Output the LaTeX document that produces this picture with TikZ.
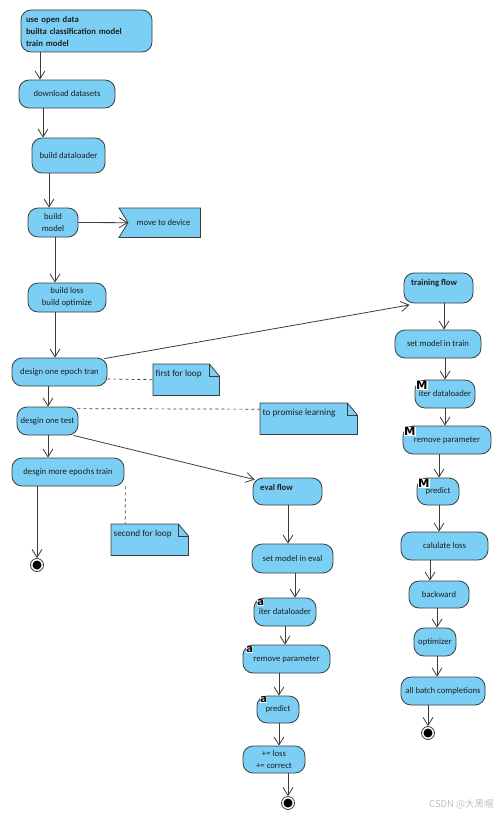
\documentclass[tikz,border=0pt]{standalone}
\usepackage{fontspec}
\setmainfont{Carlito}
\newfontfamily\cjkfont{Noto Sans CJK SC}
\newfontfamily\badgefont{DejaVu Sans}
\usetikzlibrary{arrows.meta,calc}
\definecolor{actfill}{HTML}{7BCFF4}
\definecolor{actline}{HTML}{3C3C3C}
\definecolor{txt}{HTML}{1E1E1E}
\begin{document}
\begin{tikzpicture}[x=1pt,y=-1pt,
  act/.style={draw=actline, fill=actfill, line width=0.8pt, rounded corners=10pt,
    inner sep=0pt, font=\fontsize{8.7}{12}\selectfont, text=txt, align=center},
  boldtxt/.style={font=\bfseries\fontsize{8.7}{12}\selectfont, text=txt, inner sep=0pt, anchor=west},
  shapebox/.style={draw=none, fill=none, inner sep=0pt, anchor=north west},
  shapeline/.style={draw=actline, fill=actfill, line width=0.8pt},
  notetext/.style={font=\fontsize{9.2}{11}\selectfont, text=txt, inner sep=0pt, anchor=west},
  arr/.style={draw=actline, line width=0.8pt, -{Straight Barb[length=8pt,width=10pt,line width=0.8pt]}},
  dashlink/.style={draw=actline, line width=0.7pt, dashed},
  badge/.style={font=\badgefont\bfseries\fontsize{11.5}{11.5}\selectfont, fill=white, inner sep=0.3pt, anchor=north west, text=black},
  badgea/.style={font=\badgefont\bfseries\fontsize{10.5}{10.5}\selectfont, fill=white, inner sep=0.2pt, anchor=north west, text=black},
  final/.style={circle, draw=actline, fill=white, line width=0.8pt, minimum size=13pt, inner sep=0pt,
    path picture={\fill[black] (path picture bounding box.center) circle (4.5pt);}}
]
\fill[white] (0,0) rectangle (499,816);
\useasboundingbox (0,0) rectangle (499,816);

% left column
\node[act, minimum width=131pt, minimum height=42pt, text width=121pt, align=left,
  font=\bfseries\fontsize{8.7}{12}\selectfont] (start) at (86.5,31)
  {use open data\\builta classification model\\train model};
\node[act, minimum width=96pt, minimum height=28pt] (download) at (67,94) {download datasets};
\node[act, minimum width=73pt, minimum height=35pt] (dataloader) at (68.5,155.5) {build dataloader};
\node[act, minimum width=50pt, minimum height=29pt] (buildmodel) at (53,222.5) {build\\model};
\node[shapebox, minimum width=81pt, minimum height=29pt] (movedev) at (119,208) {};
\draw[shapeline] (movedev.north west) -- (movedev.north east) -- (movedev.south east)
  -- (movedev.south west) -- ([xshift=9pt]movedev.west) -- cycle;
\node[font=\fontsize{8.7}{12}\selectfont, text=txt, inner sep=0pt] (movedevt) at (163.5,223) {move to device};
\node[act, minimum width=78pt, minimum height=29pt] (buildloss) at (67,297.5) {build loss\\build optimize};
\node[act, minimum width=95pt, minimum height=28pt] (epoch) at (59.5,372) {design one epoch tran};
\node[act, minimum width=61pt, minimum height=28pt] (test) at (47.5,421) {desgin one test};
\node[act, minimum width=112pt, minimum height=28pt] (more) at (68,472) {desgin more epochs train};
\node[final] (end1) at (37,565) {};

% notes
\node[shapebox, minimum width=66pt, minimum height=31pt] (note1) at (153,364) {};
\node[shapebox, minimum width=97pt, minimum height=31pt] (note2) at (260,403) {};
\node[shapebox, minimum width=77pt, minimum height=31pt] (note3) at (111,524) {};
\foreach \n in {note1,note2,note3}{
  \draw[shapeline] (\n.north west) -- ([xshift=-10pt]\n.north east) -- ([yshift=-12pt]\n.north east)
    -- (\n.south east) -- (\n.south west) -- cycle;
  \draw[actline, line width=0.8pt] ([xshift=-10pt]\n.north east) |- ([yshift=-12pt]\n.north east);
}
\node[notetext] (note1t) at (155.5,374) {first for loop};
\node[notetext] (note2t) at (262.5,413) {to promise learning};
\node[notetext] (note3t) at (113.5,534) {second for loop};

% training flow
\node[act, minimum width=69pt, minimum height=30pt] (trainflow) at (438.5,288) {};
\node[boldtxt] (trainflowt) at (411,283) {training flow};
\node[act, minimum width=86pt, minimum height=28pt] (settrain) at (438,344) {set model in train};
\node[act, minimum width=60pt, minimum height=28pt] (iter1) at (445,394) {iter dataloader};
\node[act, minimum width=88pt, minimum height=28pt] (remove1) at (447,440) {remove parameter};
\node[act, minimum width=42pt, minimum height=27pt] (predict1) at (438,491.5) {predict};
\node[act, minimum width=87pt, minimum height=28pt] (calc) at (444.5,546) {calulate loss};
\node[act, minimum width=60pt, minimum height=27pt] (backward) at (439,594.5) {backward};
\node[act, minimum width=42pt, minimum height=28pt] (optimizer) at (435,642) {optimizer};
\node[act, minimum width=84pt, minimum height=28pt] (allbatch) at (443,691) {all batch completions};
\node[final] (end2) at (428,733) {};

% eval flow
\node[act, minimum width=69pt, minimum height=27pt] (evalflow) at (287.5,491.5) {};
\node[boldtxt] (evalflowt) at (260,487) {eval flow};
\node[act, minimum width=81pt, minimum height=29pt] (seteval) at (292.5,558.5) {set model in eval};
\node[act, minimum width=62pt, minimum height=28pt] (iter2) at (285,612) {iter dataloader};
\node[act, minimum width=87pt, minimum height=28pt] (remove2) at (286.5,659) {remove parameter};
\node[act, minimum width=42pt, minimum height=27pt] (predict2) at (278,709.5) {predict};
\node[act, minimum width=62pt, minimum height=27pt] (loss) at (274,759.5) {+= loss\\+= correct};
\node[final] (end3) at (288,803) {};

% badges
\node[badge] (m1) at ([xshift=1pt,yshift=-1.5pt]iter1.north west) {M};
\node[badge] (m2) at ([xshift=1pt,yshift=-1.5pt]remove1.north west) {M};
\node[badge] (m3) at ([xshift=1pt,yshift=-1pt]predict1.north west) {M};
\node[badgea] (a1) at ([xshift=3pt,yshift=-2pt]iter2.north west) {a};
\node[badgea] (a2) at ([xshift=3pt,yshift=-2pt]remove2.north west) {a};
\node[badgea] (a3) at ([xshift=3pt,yshift=-1pt]predict2.north west) {a};

% connectors left
\draw[arr] ([xshift=-46.5pt]start.south) -- ([xshift=-27pt]download.north);
\draw[arr] ([xshift=-24pt]download.south) -- ([xshift=-25.5pt]dataloader.north);
\draw[arr] ([xshift=-19.5pt]dataloader.south) -- ([xshift=-4pt]buildmodel.north);
\draw[arr] (buildmodel.east) -- ([xshift=9pt]movedev.west);
\draw[arr] ([xshift=2pt]buildmodel.south) -- ([xshift=-12pt]buildloss.north);
\draw[arr] ([xshift=-12pt]buildloss.south) -- ([xshift=-4.5pt]epoch.north);
\draw[arr] ([xshift=-11.5pt]epoch.south) -- ([xshift=0.5pt]test.north);
\draw[arr] ([xshift=0.5pt]test.south) -- ([xshift=-20pt]more.north);
\draw[arr] ([xshift=-31pt]more.south) -- (end1.north);
\draw[arr] ([xshift=-3pt,yshift=-1pt]epoch.north east) -- ([xshift=6pt,yshift=-1.5pt]trainflow.south west);
\draw[arr] ([xshift=-5pt]test.south east) -- ([xshift=2pt,yshift=-2pt]evalflow.north west);

% dashed note links
\draw[dashlink] ([yshift=-7pt]epoch.east) -- (note1.west);
\draw[dashlink] ([xshift=-1pt,yshift=-2pt]test.north east) -- ([yshift=9.5pt]note2.west);
\draw[dashlink] ([xshift=1pt]more.south east) -- ([xshift=-24.5pt]note3.north);

% connectors training
\draw[arr] ([xshift=5.5pt]trainflow.south) -- ([xshift=6pt]settrain.north);
\draw[arr] ([xshift=7pt]settrain.south) -- (iter1.north);
\draw[arr] (iter1.south) -- ([xshift=-2pt]remove1.north);
\draw[arr] ([xshift=-8pt]remove1.south) -- ([xshift=1pt]predict1.north);
\draw[arr] ([xshift=1pt]predict1.south) -- ([xshift=-5.5pt]calc.north);
\draw[arr] ([xshift=-14.5pt]calc.south) -- ([xshift=-9pt]backward.north);
\draw[arr] ([xshift=-2pt]backward.south) -- ([xshift=2pt]optimizer.north);
\draw[arr] ([xshift=2pt]optimizer.south) -- ([xshift=-6pt]allbatch.north);
\draw[arr] ([xshift=-15pt]allbatch.south) -- (end2.north);

% connectors eval
\draw[arr] ([xshift=0.5pt]evalflow.south) -- ([xshift=-4.5pt]seteval.north);
\draw[arr] ([xshift=2.5pt]seteval.south) -- ([xshift=10pt]iter2.north);
\draw[arr] (iter2.south) -- ([xshift=-1.5pt]remove2.north);
\draw[arr] ([xshift=-7.5pt]remove2.south) -- ([xshift=1pt]predict2.north);
\draw[arr] ([xshift=1pt]predict2.south) -- ([xshift=5pt]loss.north);
\draw[arr] ([xshift=14pt]loss.south) -- (end3.north);

% watermark
\node[font=\cjkfont\fontsize{9.5}{9.5}\selectfont, text=black!25, inner sep=0pt, anchor=west] (wm) at (429,804) {CSDN @大黑帽};
\end{tikzpicture}
\end{document}
